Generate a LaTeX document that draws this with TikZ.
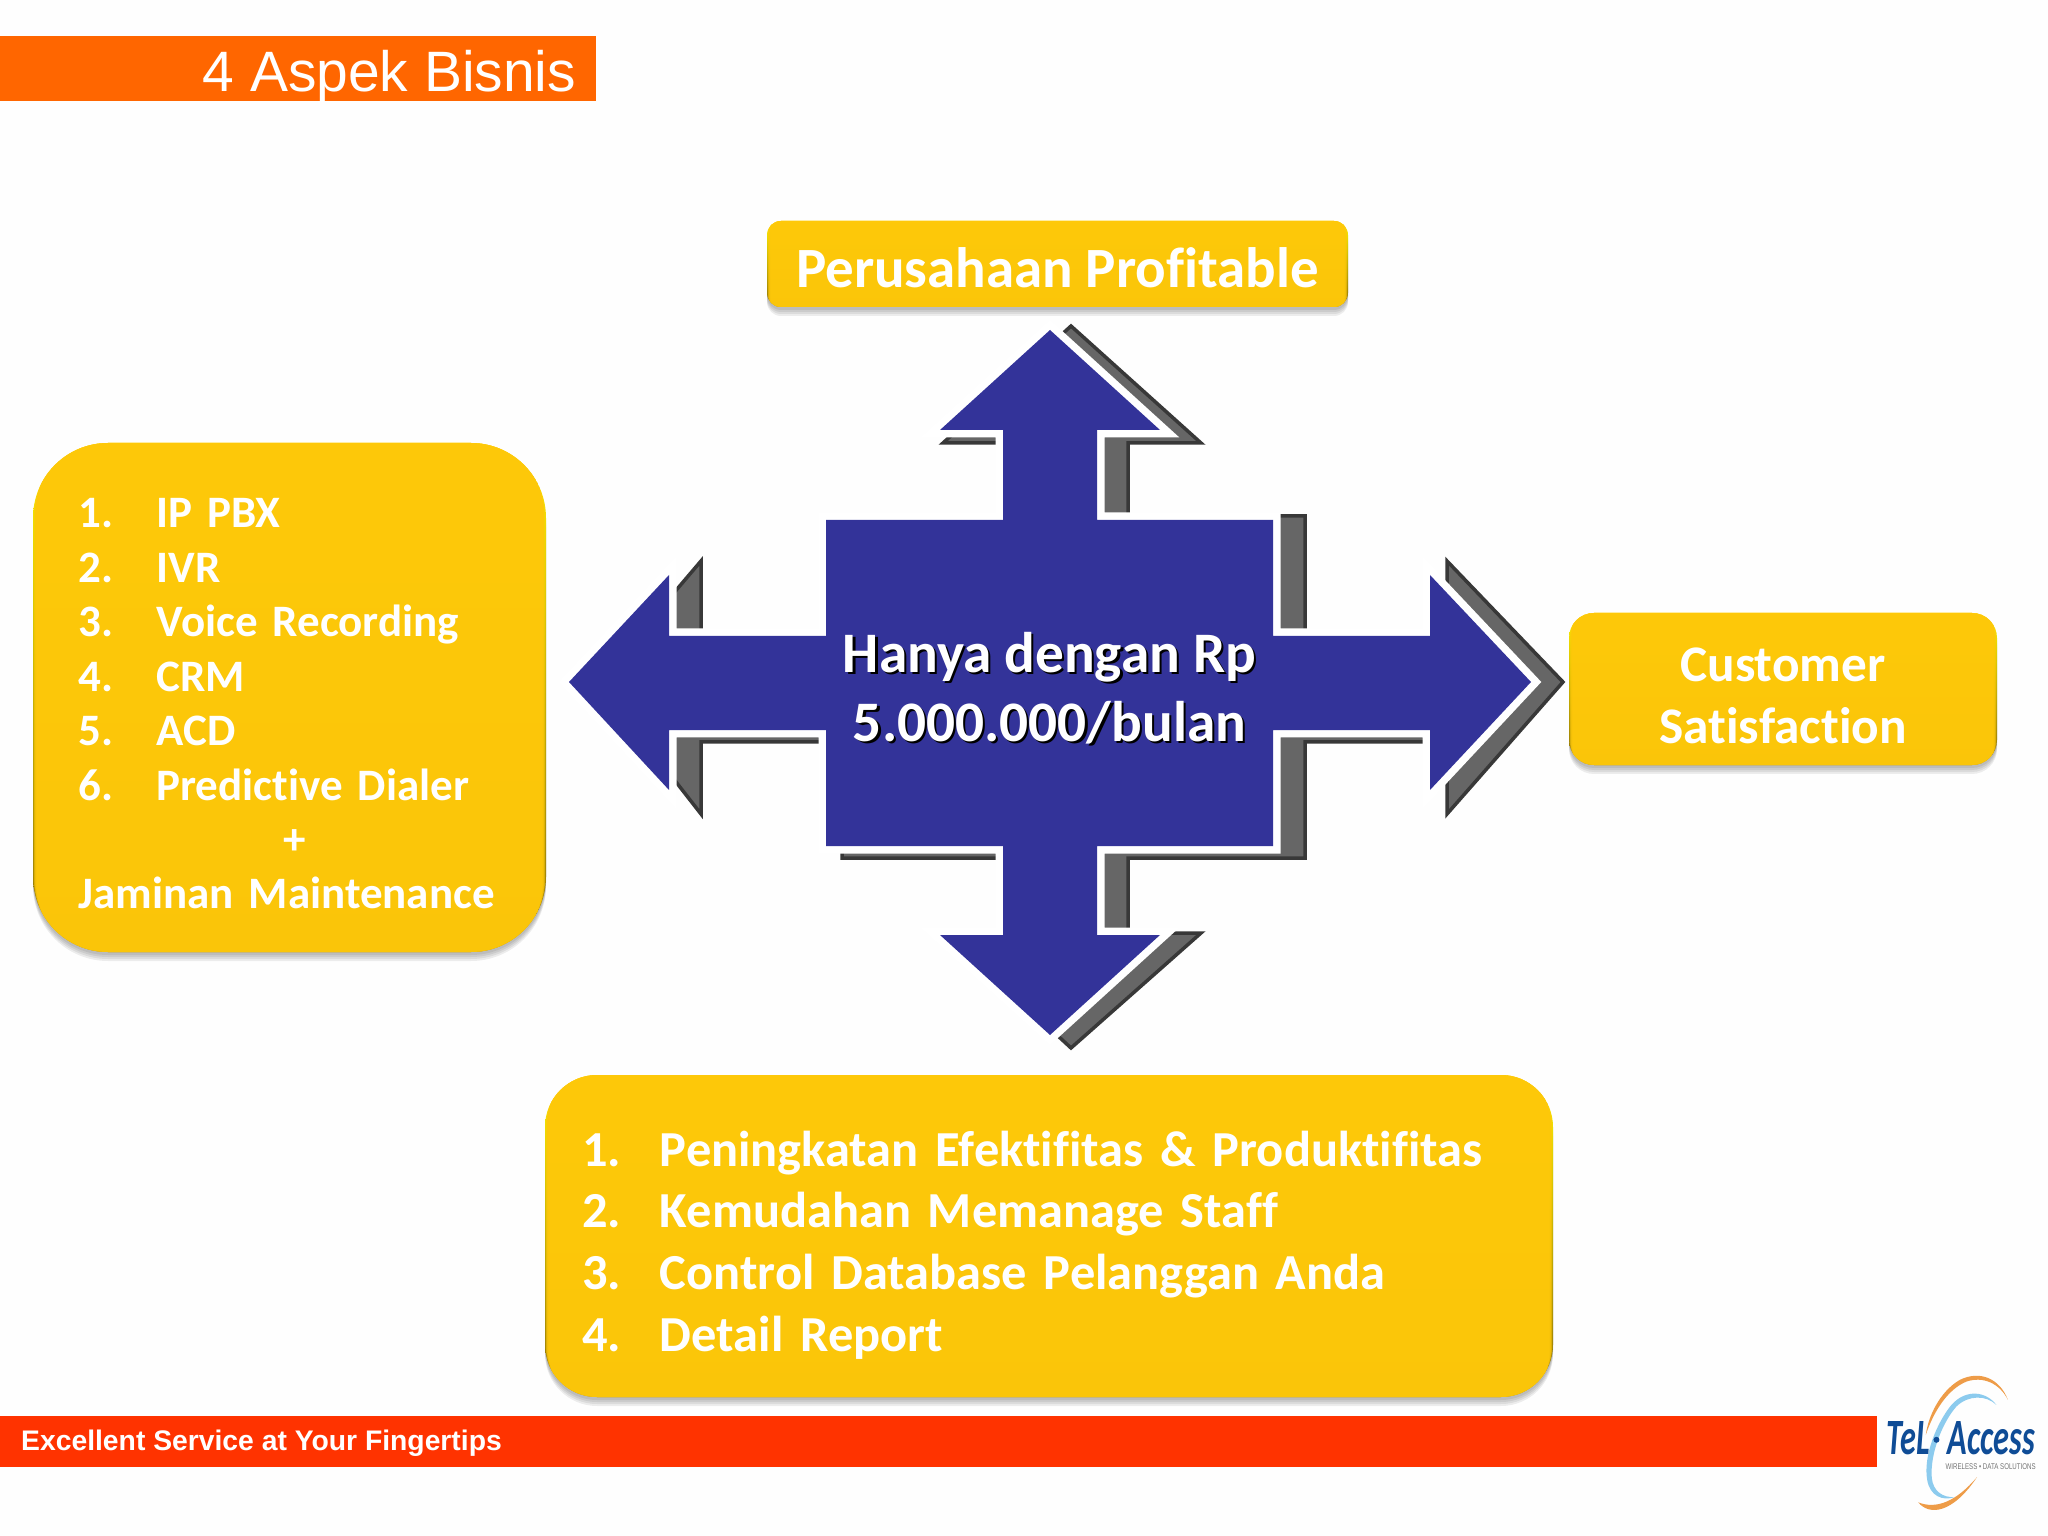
\documentclass[tikz,border=0pt]{standalone}
\usepackage{fontspec}
\usepackage{graphicx}
\setmainfont{Carlito}[Ligatures=NoCommon]
\newfontfamily\arialfont{Liberation Sans}

\definecolor{barorange}{HTML}{FF6600}
\definecolor{barred}{HTML}{FF3300}
\definecolor{boxyellow}{HTML}{FEC80A}
\definecolor{crossblue}{HTML}{333399}
\definecolor{logonavy}{HTML}{0F4C96}
\definecolor{logoorange}{HTML}{EE9C48}
\definecolor{logoblue}{HTML}{8CCBEE}

\newcommand{\listitem}[2]{\makebox[#1][l]{#2}}
\newcommand{\glowtext}[1]{\rlap{\kern.022cm\raisebox{-.022cm}{\color{black}#1}}#1}

\tikzset{
  softdrop/.style={preaction={fill=black,fill opacity=.07,transform canvas={yshift=-#1}}},
  bevelbox/.style={shape=rectangle,rounded corners=#1,top color=yellow!90!orange,bottom color=boxyellow!55!black,
    softdrop=.03cm,softdrop=.05cm,softdrop=.07cm,softdrop=.09cm,
    path picture={\foreach \d in {.015,.03,.045,.06}{
      \fill[boxyellow,opacity=.6,rounded corners=#1] ([shift={(.6*\d,-1.3*\d)}]path picture bounding box.north west) rectangle ([shift={(-.6*\d,1.2*\d)}]path picture bounding box.south east);}},
    text=white,font=\bfseries,inner sep=0pt},
  armpiece/.style={draw=black!78,line width=.035cm,fill=black!60,miter limit=20},
}

\begin{document}
\begin{tikzpicture}[x=1cm,y=-1cm]
  \useasboundingbox (0,0) rectangle (20.48,15.36);
  \fill[black!0.5] (0,0) rectangle (20.48,15.36);

  % bars
  \node[fill=barorange,minimum width=5.96cm,minimum height=.65cm,inner sep=0pt] (titlebar) at (2.98,.685) {};
  \node[anchor=base west,inner sep=0pt,text=white,font=\arialfont\fontsize{16.2}{18}\selectfont] (title) at (2.02,.915) {4 Aspek Bisnis};
  \node[fill=barred,minimum width=18.77cm,minimum height=.51cm,inner sep=0pt] (footbar) at (9.385,14.415) {};
  \node[anchor=base west,inner sep=0pt,text=white,font=\arialfont\bfseries\fontsize{8.05}{10}\selectfont] (slogan) at (.205,14.5) {Excellent Service at Your Fingertips};

  % arrow cross
  \def\shadowpath{(10.71,3.26) -- (12.01,4.43) -- (11.28,4.43) -- (11.28,5.16) -- (13.05,5.16) -- (13.05,6.40) -- (14.47,6.40) -- (14.47,5.61) -- (15.63,6.82) -- (14.47,8.14) -- (14.47,7.42) -- (13.05,7.42) -- (13.05,8.58) -- (11.28,8.58) -- (11.28,9.33) -- (12.01,9.33) -- (10.71,10.48) -- (9.47,9.33) -- (10.32,9.33) -- (10.32,8.58) -- (8.42,8.58) -- (8.42,7.42) -- (7.01,7.42) -- (7.01,8.14) -- (5.98,6.82) -- (7.01,5.61) -- (7.01,6.36) -- (8.42,6.36) -- (8.42,5.18) -- (10.32,5.18) -- (10.32,4.43) -- (9.43,4.43) -- cycle}
  \def\crosspath{(10.50,3.30) -- (11.60,4.30) -- (10.97,4.30) -- (10.97,5.20) -- (12.73,5.20) -- (12.73,6.36) -- (14.30,6.36) -- (14.30,5.75) -- (15.31,6.82) -- (14.30,7.90) -- (14.30,7.30) -- (12.73,7.30) -- (12.73,8.46) -- (10.97,8.46) -- (10.97,9.35) -- (11.60,9.35) -- (10.50,10.35) -- (9.40,9.35) -- (10.03,9.35) -- (10.03,8.46) -- (8.26,8.46) -- (8.26,7.30) -- (6.69,7.30) -- (6.69,7.90) -- (5.69,6.82) -- (6.69,5.75) -- (6.69,6.36) -- (8.26,6.36) -- (8.26,5.20) -- (10.03,5.20) -- (10.03,4.30) -- (9.40,4.30) -- cycle}
  \path[armpiece] \shadowpath;
  \draw[white,line width=.15cm,miter limit=20] \crosspath;
  \fill[crossblue] \crosspath;
  \node[text=white,align=center,inner sep=0pt,font=\bfseries\fontsize{16.3}{19.6}\selectfont] (price) at (10.495,6.895) {\glowtext{Hanya dengan Rp}\\\glowtext{5.000.000/bulan}};

  % yellow boxes
  \node[bevelbox=.14cm,minimum width=5.81cm,minimum height=.86cm,font=\bfseries\fontsize{16.2}{19}\selectfont] (profit) at (10.575,2.64) {\rule{0pt}{.47cm}Perusahaan Profitable};
  \node[bevelbox=.75cm,minimum width=5.13cm,minimum height=5.09cm,text width=4.22cm,align=left,font=\bfseries\fontsize{12.8}{15.5}\selectfont] (services) at (2.895,6.975) {%
    \rule{0pt}{.42cm}\listitem{.78cm}{1.}IP PBX\\\listitem{.78cm}{2.}IVR\\\listitem{.78cm}{3.}Voice Recording\\\listitem{.78cm}{4.}CRM\\\listitem{.78cm}{5.}ACD\\\listitem{.78cm}{6.}Predictive Dialer\\\hspace*{2.05cm}+\\Jaminan Maintenance};
  \node[bevelbox=.25cm,minimum width=4.28cm,minimum height=1.52cm,align=center,font=\bfseries\fontsize{14.6}{17.55}\selectfont] (satisfaction) at (17.83,6.89) {\rule{0pt}{.48cm}Customer\\Satisfaction};
  \node[bevelbox=.52cm,minimum width=10.08cm,minimum height=3.22cm,text width=9.34cm,align=left,font=\bfseries\fontsize{14.35}{17.55}\selectfont] (benefits) at (10.49,12.36) {%
    \rule{0pt}{.53cm}\listitem{.78cm}{1.}Peningkatan Efektifitas \& Produktifitas\\\listitem{.78cm}{2.}Kemudahan Memanage Staff\\\listitem{.78cm}{3.}Control Database Pelanggan Anda\\\listitem{.78cm}{4.}Detail Report};

  % logo
  \begin{scope}[shift={(18.40,13.50)},x=.00333cm,y=-.00333cm]
    \fill[logoorange] (505,150) .. controls (480,85) and (420,60) .. (360,90) .. controls (300,125) and (265,200) .. (258,255) .. controls (280,190) and (320,120) .. (380,95) .. controls (430,78) and (480,100) .. (505,150) -- cycle;
    \fill[logoorange] (235,458) .. controls (270,500) and (340,490) .. (412,382) .. controls (350,455) and (290,480) .. (235,458) -- cycle;
    \fill[logoblue] (470,165) .. controls (440,125) and (380,115) .. (335,165) .. controls (290,220) and (250,320) .. (262,390) .. controls (270,440) and (310,455) .. (345,442) .. controls (310,445) and (280,425) .. (276,385) .. controls (270,310) and (310,215) .. (350,170) .. controls (385,135) and (440,135) .. (470,165) -- cycle;
    \node[text=logonavy,inner sep=0pt,font=\bfseries\itshape] (logotel) at (205,265) {\resizebox{.43cm}{.33cm}{TeL}};
    \node[text=logonavy,inner sep=0pt,font=\bfseries\itshape] (logoaccess) at (455,265) {\resizebox{.87cm}{.33cm}{Access}};
    \node[logonavy,circle,fill,inner sep=0pt,minimum size=.06cm] (logodot) at (290,270) {};
    \node[text=black!55,inner sep=0pt,font=\arialfont] (logotag) at (453,350) {\resizebox{.90cm}{.058cm}{WIRELESS • DATA SOLUTIONS}};
  \end{scope}
\end{tikzpicture}
\end{document}
